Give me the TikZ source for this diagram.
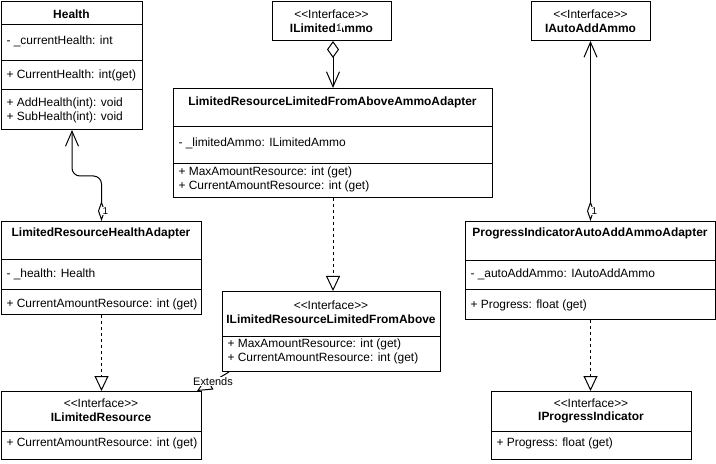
\documentclass[tikz,border=0pt]{standalone}
\usepackage{fontspec}
\setmainfont{Liberation Sans}[Ligatures=TeXOff]
\usetikzlibrary{arrows.meta,calc}
\newcommand{\stereotype}[1]{<\kern0pt<#1>\kern0pt>}
\begin{document}
\begin{tikzpicture}[x=1bp,y=-1bp,
  font=\fontsize{12}{14}\selectfont,
  line width=1bp,
  umlbox/.style={draw, line width=1bp, fill=white, inner sep=0pt, anchor=north west},
  divider/.style={line width=1bp},
  title/.style={font=\fontsize{12}{14}\selectfont\bfseries, inner sep=0pt},
  stereo/.style={inner sep=0pt},
  member/.style={anchor=west, inner sep=0pt},
  mult/.style={font=\fontsize{10}{11}\selectfont, fill=white, inner sep=0.6bp},
  realize/.style={dash pattern=on 3bp off 3bp, -{Triangle[open,length=15bp,width=14bp,fill=white]}},
  aggstart/.style={{Diamond[open,length=20bp,width=7bp,fill=white]}-{Straight Barb[length=15bp,width=13bp]}},
]
\useasboundingbox (0,0) rectangle (716,464);

% ---------- Health ----------
\node[umlbox, minimum width=141bp, minimum height=128bp] (health) at (1,1) {};
\draw[divider] (1,25) -- (142,25) (1,61) -- (142,61) (1,90) -- (142,90);
\node[title] (healthT) at (71.5,14) {Health};
\node[member] (healthA) at (6,41) {- \_currentHealth: int};
\node[member] (healthP) at (6,75) {+ CurrentHealth: int(get)};
\node[member] (healthM1) at (6,103) {+ AddHealth(int): void};
\node[member] (healthM2) at (6,117) {+ SubHealth(int): void};

% ---------- ILimitedAmmo ----------
\node[umlbox, minimum width=119bp, minimum height=39bp] (ilimammo) at (272,1) {};
\node[stereo] (ilimammoS) at (331.5,14) {\stereotype{Interface}};
\node[title] (ilimammoT) at (331.5,28) {ILimitedAmmo};

% ---------- IAutoAddAmmo ----------
\node[umlbox, minimum width=119bp, minimum height=39bp] (iautoadd) at (531,1) {};
\node[stereo] (iautoaddS) at (590.5,14) {\stereotype{Interface}};
\node[title] (iautoaddT) at (590.5,28) {IAutoAddAmmo};

% ---------- LimitedResourceLimitedFromAboveAmmoAdapter ----------
\node[umlbox, minimum width=319bp, minimum height=109bp] (lrlfa) at (173,88) {};
\draw[divider] (173,127) -- (492,127) (173,164) -- (492,164);
\node[title] (lrlfaT) at (332.5,102) {LimitedResourceLimitedFromAboveAmmoAdapter};
\node[member] (lrlfaA) at (178,143) {- \_limitedAmmo: ILimitedAmmo};
\node[member] (lrlfaP1) at (178,172) {+ MaxAmountResource: int (get)};
\node[member] (lrlfaP2) at (178,186) {+ CurrentAmountResource: int (get)};

% ---------- LimitedResourceHealthAdapter ----------
\node[umlbox, minimum width=200bp, minimum height=93bp] (lrha) at (1,221) {};
\draw[divider] (1,260) -- (201,260) (1,290) -- (201,290);
\node[title] (lrhaT) at (101,233) {LimitedResourceHealthAdapter};
\node[member] (lrhaA) at (6,274) {- \_health: Health};
\node[member] (lrhaP) at (6,304) {+ CurrentAmountResource: int (get)};

% ---------- ProgressIndicatorAutoAddAmmoAdapter ----------
\node[umlbox, minimum width=250bp, minimum height=98bp] (piaa) at (465,221) {};
\draw[divider] (465,261) -- (715,261) (465,290) -- (715,290);
\node[title] (piaaT) at (590,233) {ProgressIndicatorAutoAddAmmoAdapter};
\node[member] (piaaA) at (470,274) {- \_autoAddAmmo: IAutoAddAmmo};
\node[member] (piaaP) at (470,305) {+ Progress: float (get)};

% ---------- ILimitedResourceLimitedFromAbove ----------
\node[umlbox, minimum width=218bp, minimum height=80bp] (ilrlfa) at (222,291) {};
\draw[divider] (222,336) -- (440,336);
\node[stereo] (ilrlfaS) at (331,305) {\stereotype{Interface}};
\node[title] (ilrlfaT) at (331,319) {ILimitedResourceLimitedFromAbove};
\node[member] (ilrlfaP1) at (227,344) {+ MaxAmountResource: int (get)};
\node[member] (ilrlfaP2) at (227,358) {+ CurrentAmountResource: int (get)};

% ---------- ILimitedResource ----------
\node[umlbox, minimum width=200bp, minimum height=68bp] (ilr) at (1,391) {};
\draw[divider] (1,431) -- (201,431);
\node[stereo] (ilrS) at (101,403) {\stereotype{Interface}};
\node[title] (ilrT) at (101,417) {ILimitedResource};
\node[member] (ilrP) at (6,443) {+ CurrentAmountResource: int (get)};

% ---------- IProgressIndicator ----------
\node[umlbox, minimum width=200bp, minimum height=68bp] (iprog) at (491,391) {};
\draw[divider] (491,431) -- (691,431);
\node[stereo] (iprogS) at (591,403) {\stereotype{Interface}};
\node[title] (iprogT) at (591,417) {IProgressIndicator};
\node[member] (iprogP) at (496,443) {+ Progress: float (get)};

% ---------- Associations ----------
% Health <- LimitedResourceHealthAdapter
\draw[aggstart, rounded corners=8bp]
  (lrha.north) |- ([yshift=-46bp]health.south) -- (health.south);
\node[mult] (m1) at ([xshift=4bp,yshift=10bp]lrha.north) {1};

% ILimitedAmmo <- LimitedResourceLimitedFromAboveAmmoAdapter
\draw[{Straight Barb[length=15bp,width=13bp]}-{Diamond[open,length=17bp,width=12bp,fill=white]}]
  (lrlfa.north) -- (lrlfa.north |- ilimammo.south);
\node[mult] (m2) at (339,28) {1};

% IAutoAddAmmo <- ProgressIndicatorAutoAddAmmoAdapter
\draw[aggstart] (piaa.north) -- (piaa.north |- iautoadd.south);
\node[mult] (m3) at ([xshift=4bp,yshift=10bp]piaa.north) {1};

% ---------- Realizations ----------
\draw[realize] (lrlfa.south) -- (lrlfa.south |- ilrlfa.north);
\draw[realize] (lrha.south) -- (lrha.south |- ilr.north);
\draw[realize] (piaa.south) -- (piaa.south |- iprog.north);

% ---------- Generalization ----------
\draw[-{Triangle[open,length=15bp,width=14bp,fill=white]}]
  ([xshift=7bp]ilrlfa.south west) -- ([xshift=-5bp]ilr.north east)
  node[midway, fill=white, inner sep=0.5bp, font=\fontsize{11}{12}\selectfont] (ext) {Extends};
\end{tikzpicture}
\end{document}
